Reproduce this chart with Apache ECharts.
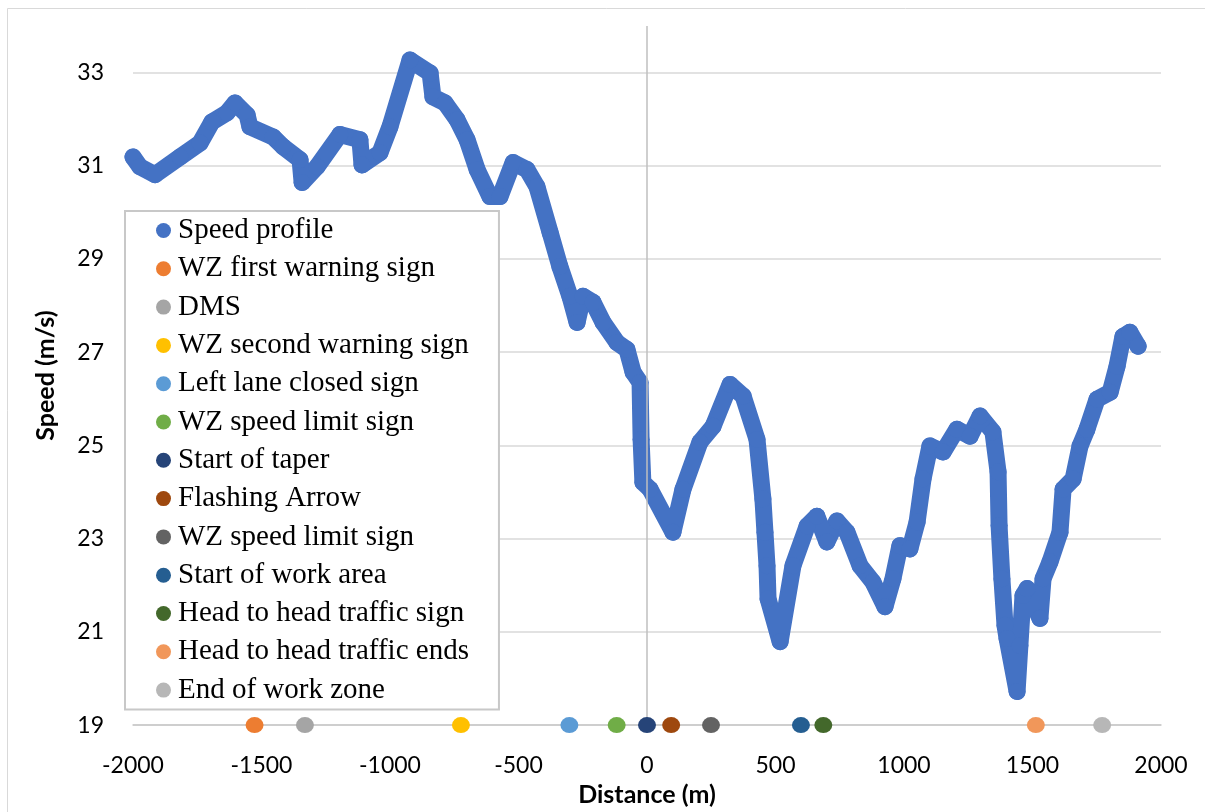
<!DOCTYPE html>
<html>
<head>
<meta charset="utf-8">
<script src="https://cdn.jsdelivr.net/npm/echarts@6/dist/echarts.min.js"></script>
<style>
  html, body { margin: 0; padding: 0; background: #fff; }
  #chart { width: 1205px; height: 812px; }
</style>
</head>
<body>
<div id="chart"></div>
<script>
// speed profile
const distances = [-2000, -1973, -1914, -1817, -1739, -1693, -1634, -1603, -1556, -1545, -1455, -1416, -1350, -1342, -1284, -1195, -1117, -1109, -1039, -1000,
  -922, -844, -833, -786, -739, -700, -661, -611, -572, -521, -467, -428, -377, -339, -300, -272, -249, -210, -171, -117,
  -78, -54, -27, -23, -16, 12, 101, 140, 206, 257, 323, 374, 428, 451, 459, 467, 471, 518, 568, 623,
  661, 700, 739, 778, 829, 879, 926, 957, 984, 1023, 1051, 1074, 1101, 1152, 1206, 1257, 1296, 1346, 1366, 1370,
  1381, 1393, 1401, 1440, 1451, 1463, 1479, 1529, 1541, 1568, 1607, 1619, 1658, 1685, 1712, 1751, 1802, 1829, 1852, 1879, 1911]
const speeds = [31.19, 30.98, 30.81, 31.19, 31.49, 31.94, 32.14, 32.35, 32.09, 31.84, 31.62, 31.41, 31.13, 30.64, 30.98, 31.67, 31.56, 31.02, 31.28, 31.84,
  33.27, 32.99, 32.48, 32.35, 31.99, 31.56, 30.92, 30.34, 30.34, 31.07, 30.92, 30.55, 29.57, 28.84, 28.20, 27.64, 28.20, 28.07, 27.64, 27.21,
  27.06, 26.57, 26.35, 25.13, 24.21, 24.06, 23.14, 24.06, 25.07, 25.41, 26.31, 26.06, 25.13, 23.85, 23.14, 22.42, 21.71, 20.79, 22.42, 23.27,
  23.48, 22.93, 23.38, 23.14, 22.42, 22.07, 21.54, 22.14, 22.85, 22.78, 23.36, 24.28, 24.99, 24.86, 25.35, 25.20, 25.63, 25.29, 24.43, 23.28,
  22.14, 21.14, 20.86, 19.72, 20.71, 21.78, 21.93, 21.29, 22.14, 22.50, 23.14, 24.06, 24.28, 24.99, 25.35, 25.99, 26.14, 26.70, 27.34, 27.43, 27.13]

// work zone signs, all sitting on the bottom of the axis
const signNames = ['WZ first warning sign', 'DMS', 'WZ second warning sign', 'Left lane closed sign', 'WZ speed limit sign',
  'Start of taper', 'Flashing Arrow', 'WZ speed limit sign ', 'Start of work area', 'Head to head traffic sign',
  'Head to head traffic ends', 'End of work zone']
const signDistances = [-1527, -1331, -724, -302, -118, 0, 94, 249, 599, 686, 1513, 1771]
const signColors = ['#ED7D31', '#A5A5A5', '#FFC000', '#5B9BD5', '#70AD47', '#264478', '#9E480E', '#636363', '#255E91', '#43682B', '#F1975A', '#B7B7B7']
const signSpeed = 19

const chart = echarts.init(document.getElementById('chart'))

const speedData = distances.map((d, i) => [d, speeds[i]])

const signSeries = signNames.map((name, i) => ({
  name: name,
  type: 'scatter',
  data: [[signDistances[i], signSpeed]],
  symbol: 'circle',
  symbolSize: [18, 16],
  itemStyle: { color: signColors[i], opacity: 1 },
  clip: false,
  z: 5
}))

const option = {
  backgroundColor: '#fff',
  animation: false,
  grid: {
    left: 133,
    right: 44,
    top: 26,
    bottom: 86
  },
  graphic: [{
    type: 'polyline',
    shape: { points: [[7.5, 812], [7.5, 8.5], [1205, 8.5]] },
    style: { stroke: '#d9d9d9', lineWidth: 1, fill: null },
    silent: true
  }],
  legend: {
    orient: 'vertical',
    left: 125,
    top: 211,
    data: ['Speed profile'].concat(signNames),
    icon: 'circle',
    itemWidth: 15,
    itemHeight: 15,
    itemGap: 9.3,
    padding: [5, 30, 5, 31],
    backgroundColor: '#fff',
    borderColor: '#c8c8c8',
    borderWidth: 2,
    itemStyle: { opacity: 1 },
    textStyle: {
      fontFamily: 'Liberation Serif',
      fontSize: 29,
      lineHeight: 29,
      color: '#000',
      padding: [0, 0, 0, 2]
    },
    formatter: (name) => name.trim()
  },
  xAxis: {
    type: 'value',
    min: -2000,
    max: 2000,
    interval: 500,
    name: 'Distance (m)',
    nameLocation: 'middle',
    nameGap: 56,
    nameTextStyle: { fontFamily: 'Lato', fontWeight: 'bold', fontSize: 25, color: '#000' },
    axisLine: { show: true, onZero: false, lineStyle: { color: '#c8c8c8', width: 1.5 } },
    axisTick: { show: false },
    splitLine: { show: false },
    axisLabel: { fontFamily: 'Lato', fontSize: 23, color: '#000', margin: 29, formatter: (v) => String(v) }
  },
  yAxis: {
    type: 'value',
    min: 19,
    max: 34,
    interval: 2,
    name: 'Speed (m/s)',
    nameLocation: 'middle',
    nameGap: 75,
    nameTextStyle: { fontFamily: 'Lato', fontWeight: 'bold', fontSize: 25, color: '#000' },
    axisLine: { show: false },
    axisTick: { show: false },
    splitLine: { show: true, showMaxLine: false, lineStyle: { color: '#d9d9d9', width: 1.5 } },
    axisLabel: { fontFamily: 'Lato', fontSize: 23, color: '#000', margin: 29, showMaxLabel: false }
  },
  series: [
    {
      name: 'zero line',
      type: 'line',
      data: [],
      z: 1,
      silent: true,
      markLine: {
        silent: true,
        symbol: 'none',
        label: { show: false },
        lineStyle: { color: '#bfbfbf', width: 1.5, type: 'solid' },
        data: [[{ coord: [0, 19.15] }, { coord: [0, 34] }]]
      }
    },
    {
      name: 'Speed profile',
      type: 'line',
      data: speedData,
      z: 3,
      symbol: 'circle',
      symbolSize: 17,
      showSymbol: true,
      showAllSymbol: true,
      itemStyle: { color: '#4472C4', opacity: 1 },
      lineStyle: { color: '#4472C4', width: 17, cap: 'round', join: 'round' }
    }
  ].concat(signSeries)
}

chart.setOption(option)
</script>
</body>
</html>
